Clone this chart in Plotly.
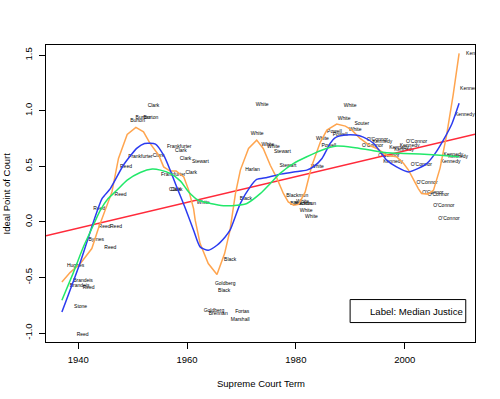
import plotly.graph_objects as go

# ---------------- data ----------------
label_names = [
    "Hughes", "Brandeis", "Brandeis", "Reed", "Stone", "Reed", "Byrnes", "Reed", "Reed", "Reed",
    "Reed", "Reed", "Reed", "Burton", "Burton", "Burton", "Clark", "Frankfurter", "Clark", "Frankfurter",
    "Clark", "Clark", "Stewart", "Frankfurter", "Clark", "Clark", "Clark", "White", "Black", "Black",
    "Goldberg", "Black", "Goldberg", "Brennan", "Fortas", "Marshall", "Harlan", "White", "White", "White",
    "White", "Stewart", "Stewart", "White", "Blackmun", "Blackmun", "Blackmun", "White", "White", "White",
    "White", "White", "Souter", "White", "Powell", "Powell", "White", "Powell", "O'Connor", "Kennedy",
    "O'Connor", "O'Connor", "Kennedy", "Kennedy", "Kennedy", "O'Connor", "Kennedy", "O'Connor", "Kennedy", "Kennedy",
    "Kennedy", "O'Connor", "O'Connor", "O'Connor", "O'Connor", "O'Connor", "Kennedy", "Kennedy", "Kennedy",
]
label_x = [
    1939.52, 1940.88, 1940.26, 1941.91, 1940.44, 1940.81, 1943.32, 1944.85, 1946.94, 1945.90,
    1943.88, 1947.79, 1948.78, 1950.91, 1951.90, 1953.37, 1953.83, 1951.46, 1954.77, 1958.57,
    1958.88, 1959.72, 1962.46, 1957.47, 1960.77, 1957.78, 1958.11, 1962.98, 1970.82, 1967.93,
    1967.02, 1966.83, 1964.94, 1965.73, 1970.14, 1969.77, 1972.03, 1973.81, 1972.89, 1974.86,
    1975.89, 1977.52, 1978.55, 1983.97, 1980.24, 1980.97, 1981.71, 1981.25, 1981.89, 1982.87,
    1989.97, 1988.87, 1992.12, 1990.89, 1987.09, 1988.14, 1984.89, 1986.06, 1994.97, 1995.90,
    1994.10, 2002.19, 1998.97, 2000.90, 1999.89, 1997.08, 1997.87, 2003.07, 2008.94, 2009.81,
    2008.43, 2004.11, 2005.16, 2006.17, 2007.18, 2008.14, 2013.09, 2011.99, 2011.04,
]
label_y = [
    -0.393, -0.534, -0.573, -0.597, -0.766, -1.013, -0.159, -0.048, -0.048, -0.231,
    0.114, 0.243, 0.495, 0.907, 0.934, 0.934, 1.045, 0.583, 0.595, 0.676,
    0.637, 0.565, 0.544, 0.421, 0.445, 0.286, 0.286, 0.173, 0.207, -0.345,
    -0.561, -0.622, -0.803, -0.823, -0.805, -0.877, 0.472, 1.051, 0.795, 0.697,
    0.676, 0.632, 0.508, 0.495, 0.236, 0.166, 0.162, 0.177, 0.101, 0.045,
    1.042, 0.925, 0.880, 0.826, 0.811, 0.787, 0.745, 0.682, 0.742, 0.721,
    0.685, 0.724, 0.668, 0.682, 0.646, 0.598, 0.541, 0.514, 0.604, 0.587,
    0.538, 0.349, 0.263, 0.241, 0.141, 0.032, 1.511, 1.202, 0.968,
]

orange_x = [1937.0, 1938.5, 1940.4, 1942.5, 1943.7, 1945.0, 1946.2, 1947.4, 1949.0, 1950.6,
            1952.0, 1953.2, 1954.8, 1955.7, 1956.9, 1958.0, 1959.4, 1960.3, 1961.2, 1961.5,
            1962.4, 1963.9, 1965.5, 1966.9, 1967.3, 1967.9, 1968.9, 1969.8, 1971.3, 1972.8,
            1974.0, 1975.3, 1976.5, 1977.7, 1978.6, 1979.6, 1980.5, 1981.7, 1982.9, 1984.5,
            1985.7, 1987.5, 1989.1, 1990.3, 1991.8, 1993.6, 1994.9, 1996.7, 1998.5, 1999.8,
            2000.7, 2001.6, 2002.5, 2003.1, 2004.3, 2005.3, 2006.5, 2007.7, 2008.9, 2010.0]
orange_y = [-0.54, -0.456, -0.375, -0.24, -0.06, 0.105, 0.27, 0.571, 0.787, 0.85,
            0.81, 0.706, 0.60, 0.495, 0.457, 0.457, 0.405, 0.286, 0.12, 0.015,
            -0.195, -0.375, -0.474, -0.285, -0.195, -0.075, 0.256, 0.466, 0.661, 0.736,
            0.661, 0.51, 0.394, 0.256, 0.18, 0.15, 0.157, 0.268, 0.50, 0.718,
            0.826, 0.88, 0.862, 0.826, 0.751, 0.686, 0.661, 0.60, 0.586, 0.526,
            0.466, 0.376, 0.30, 0.256, 0.25, 0.286, 0.484, 0.78, 1.14, 1.517]

blue_x = [1937.0, 1940.4, 1942.8, 1944.4, 1945.9, 1948.3, 1950.8, 1952.2, 1954.2, 1955.7,
          1956.9, 1958.1, 1959.7, 1961.2, 1962.4, 1963.9, 1965.5, 1967.0, 1967.9, 1969.8,
          1971.6, 1972.8, 1974.7, 1977.2, 1979.6, 1982.0, 1983.2, 1984.8, 1986.3, 1987.2,
          1989.1, 1990.9, 1992.4, 1994.3, 1995.5, 1996.7, 1998.5, 2000.7, 2002.5, 2004.1,
          2005.6, 2007.1, 2008.7, 2010.0]
blue_y = [-0.811, -0.36, 0.0, 0.211, 0.30, 0.51, 0.664, 0.706, 0.70, 0.60,
          0.466, 0.315, 0.12, -0.075, -0.225, -0.255, -0.21, -0.135, -0.075, 0.166,
          0.315, 0.382, 0.40, 0.43, 0.45, 0.466, 0.495, 0.571, 0.706, 0.757,
          0.781, 0.781, 0.763, 0.706, 0.631, 0.556, 0.495, 0.45, 0.481, 0.526,
          0.616, 0.736, 0.886, 1.067]

green_x = [1937.0, 1939.0, 1941.0, 1942.5, 1944.0, 1945.5, 1947.0, 1949.0, 1951.4, 1953.6,
           1955.1, 1956.9, 1958.8, 1960.3, 1962.1, 1964.3, 1966.7, 1969.2, 1971.0, 1973.5,
           1975.3, 1977.1, 1979.6, 1982.0, 1984.5, 1987.5, 1990.6, 1993.6, 1996.7, 1999.8,
           2002.8, 2005.9, 2010.0]
green_y = [-0.705, -0.47, -0.22, -0.06, 0.10, 0.21, 0.28, 0.376, 0.445, 0.475,
           0.466, 0.436, 0.367, 0.27, 0.195, 0.166, 0.146, 0.15, 0.166, 0.256,
           0.346, 0.436, 0.526, 0.586, 0.641, 0.682, 0.67, 0.646, 0.622, 0.616,
           0.61, 0.601, 0.586]

trend_x = [1934.08, 2012.92]
trend_y = [-0.126, 0.79]

x_ticks = [1940, 1960, 1980, 2000]
y_ticks = [-1.0, -0.5, 0.0, 0.5, 1.0, 1.5]
y_tick_text = ["-1.0", "-0.5", "0.0", "0.5", "1.0", "1.5"]

legend_text = "Label: Median Justice"

# ---------------- figure ----------------
FONT = "Liberation Sans, Arial, sans-serif"
fig = go.Figure()

fig.add_trace(go.Scatter(
    x=label_x, y=label_y, mode="text", text=label_names,
    textposition="middle center",
    textfont=dict(family=FONT, size=5, color="black"),
    cliponaxis=True, hoverinfo="skip", showlegend=False))

fig.add_trace(go.Scatter(x=trend_x, y=trend_y, mode="lines",
                         line=dict(color="#FF2A3A", width=1.5), showlegend=False))
fig.add_trace(go.Scatter(x=orange_x, y=orange_y, mode="lines",
                         line=dict(color="#FFA54F", width=1.5), showlegend=False))
fig.add_trace(go.Scatter(x=blue_x, y=blue_y, mode="lines",
                         line=dict(color="#2B3BF0", width=1.5, shape="spline", smoothing=0.6),
                         showlegend=False))
fig.add_trace(go.Scatter(x=green_x, y=green_y, mode="lines",
                         line=dict(color="#22E86A", width=1.5, shape="spline", smoothing=0.6),
                         showlegend=False))

# legend box
fig.add_shape(type="rect", xref="x", yref="y",
              x0=1989.97, x1=2011.22, y0=-0.906, y1=-0.699,
              line=dict(color="black", width=1), fillcolor="white", layer="above")
fig.add_annotation(x=1993.2, y=-0.805, xref="x", yref="y", text=legend_text,
                   showarrow=False, xanchor="left", yanchor="middle",
                   font=dict(family=FONT, size=9.6, color="black"))

# axis titles
fig.add_annotation(x=0.5, y=0, xref="paper", yref="paper", text="Supreme Court Term",
                   showarrow=False, xanchor="center", yanchor="middle", yshift=-41.5,
                   font=dict(family=FONT, size=9.5, color="black"))
fig.add_annotation(x=0, y=0.5, xref="paper", yref="paper", text="Ideal Point of Court",
                   showarrow=False, xanchor="center", yanchor="middle", xshift=-40,
                   textangle=-90, font=dict(family=FONT, size=9.5, color="black"))

fig.update_layout(
    width=500, height=399,
    margin=dict(l=46, r=25, t=45, b=57, pad=0),
    paper_bgcolor="white", plot_bgcolor="white",
    showlegend=False,
    xaxis=dict(range=[1934.08, 2012.92], tickvals=x_ticks, ticks="outside", ticklen=6,
               tickwidth=1, tickcolor="black", showgrid=False, zeroline=False,
               showline=True, linecolor="black", linewidth=1, mirror=True,
               tickfont=dict(family=FONT, size=9.5, color="black"), ticklabelstandoff=3),
    yaxis=dict(range=[-1.081, 1.592], tickvals=y_ticks, ticktext=y_tick_text,
               ticks="outside", ticklen=6, tickwidth=1, tickcolor="black",
               showgrid=False, zeroline=False, showline=True, linecolor="black",
               linewidth=1, mirror=True, tickangle=-90,
               tickfont=dict(family=FONT, size=9.5, color="black"), ticklabelstandoff=3),
)

fig.write_html("out.html", post_script="document.body.style.margin='0';",
               config={"displayModeBar": False})
